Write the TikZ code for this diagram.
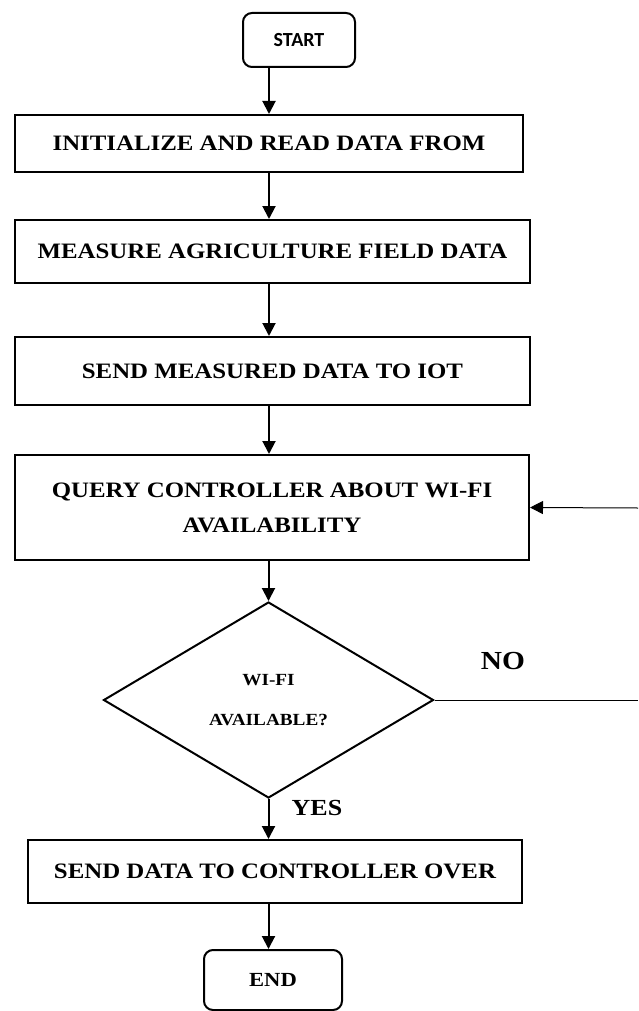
\documentclass[tikz,border=0pt]{standalone}
\usepackage{fontspec}
\setmainfont{Liberation Serif}[FakeStretch=1.13]
\newfontfamily\capfont{Carlito}
\usetikzlibrary{arrows.meta,shapes.geometric}
\begin{document}
\begin{tikzpicture}[x=1pt,y=-1pt,>={Triangle[length=13pt,width=13pt]},
	every node/.style={font=\fontsize{22}{35}\selectfont\bfseries},
	stepbox/.style={draw,line width=2pt,align=center,inner sep=0pt},
	termbox/.style={draw,line width=2pt,rounded corners=9pt,inner sep=0pt},
	flow/.style={line width=2pt,->},
	thin/.style={line width=1pt}]
	\useasboundingbox (0,0) rectangle (638,1011);
	\def\xr{638};
	% main column
	\node[termbox,minimum width=112pt,minimum height=54pt] (start) at (299,40) {\capfont\fontsize{20}{22}\selectfont\bfseries START};
	\node[stepbox,minimum width=508pt,minimum height=57pt] (init) at (269,143.5) {INITIALIZE AND READ DATA FROM};
	\node[stepbox,minimum width=515pt,minimum height=63pt] (meas) at (272.5,251.5) {MEASURE AGRICULTURE FIELD DATA};
	\node[stepbox,minimum width=515pt,minimum height=68pt] (send) at (272.5,371) {SEND MEASURED DATA TO IOT};
	\node[stepbox,minimum width=514pt,minimum height=105pt] (query) at (272,507.5) {QUERY CONTROLLER ABOUT WI-FI\\AVAILABILITY};
	\node[diamond,draw,line width=2pt,minimum width=330pt,minimum height=196pt,inner sep=0pt,aspect=1.68,align=center,
		font=\fontsize{17}{40}\selectfont\bfseries] (wifi) at (268.5,700) {WI-FI\\AVAILABLE?};
	\node[stepbox,minimum width=494pt,minimum height=63pt] (over) at (275,871.5) {SEND DATA TO CONTROLLER OVER};
	\node[termbox,minimum width=138pt,minimum height=60pt] (end) at (273,980) {\fontsize{20}{20}\selectfont END};
	% labels
	\node (no) at (503,661) {\fontsize{26}{26}\selectfont NO};
	\node (yes) at (317,808) {\fontsize{23}{23}\selectfont YES};
	\coordinate (loopin) at (\xr,508);
	\coordinate (loopout) at (\xr,700);
	% connectors
	\draw[flow] (start.south -| init.north) -- (init.north);
	\draw[flow] (init.south) -- (init.south |- meas.north);
	\draw[flow] (init.south |- meas.south) -- (init.south |- send.north);
	\draw[flow] (init.south |- send.south) -- (init.south |- query.north);
	\draw[flow] (wifi.north |- query.south) -- (wifi.north);
	\draw[flow] (wifi.south) -- (wifi.south |- over.north);
	\draw[flow] (wifi.south |- over.south) -- (wifi.south |- end.north);
	\draw[thin] (wifi.east) -- (loopout);
	\draw[thin,->] (loopin) -- (query.east);
\end{tikzpicture}
\end{document}
